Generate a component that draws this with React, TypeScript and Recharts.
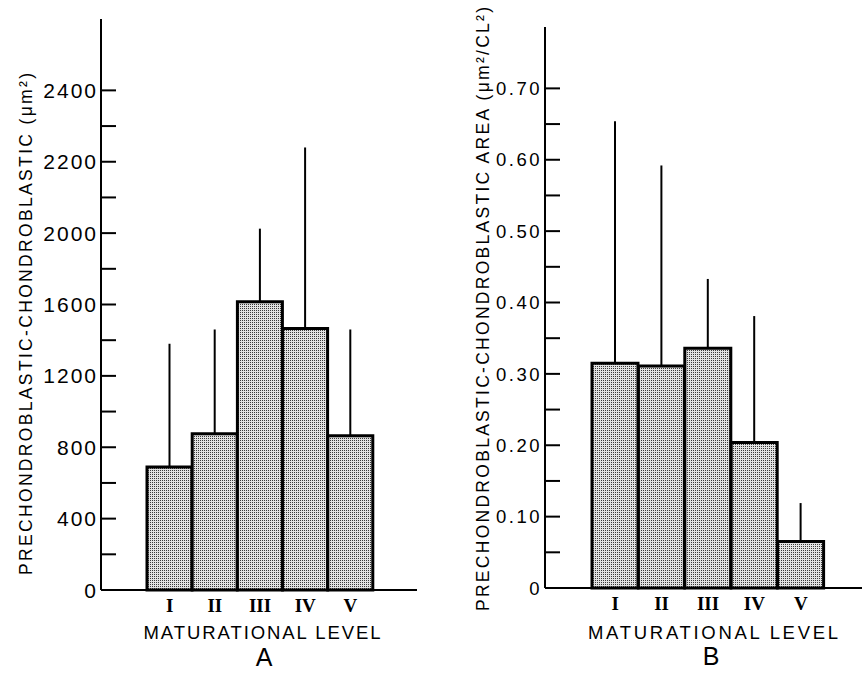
import React from 'react';
import { BarChart, Bar, XAxis, YAxis, ErrorBar } from 'recharts';

// maturational levels
const levels = ['I', 'II', 'III', 'IV', 'V'];

// panel A: area in µm², mean and upper SD
const meanA = [690, 875, 1615, 1465, 865];
const sdA = [690, 585, 410, 1015, 595];

// panel B: area in µm²/CL²
const meanB = [0.315, 0.311, 0.336, 0.204, 0.065];
const sdB = [0.339, 0.281, 0.097, 0.177, 0.054];

// y ticks (minor every half step); labels as printed on the original figure
const yTicksA = [0, 200, 400, 600, 800, 1000, 1200, 1400, 1600, 1800, 2000, 2200, 2400, 2600, 2800];
const yMajorA = [0, 400, 800, 1200, 1600, 2000, 2400, 2800];
const yMajorLabelsA = ['0', '400', '800', '1200', '1600', '2000', '2200', '2400'];

const yTicksB = [0, 0.05, 0.1, 0.15, 0.2, 0.25, 0.3, 0.35, 0.4, 0.45, 0.5, 0.55, 0.6, 0.65, 0.7];
const yMajorB = [0, 0.1, 0.2, 0.3, 0.4, 0.5, 0.6, 0.7];
const yMajorLabelsB = ['0', '0.10', '0.20', '0.30', '0.40', '0.50', '0.60', '0.70'];

const dataA = levels.map((level, i) => ({ level, value: meanA[i], err: [0, sdA[i]] }));
const dataB = levels.map((level, i) => ({ level, value: meanB[i], err: [0, sdB[i]] }));

const SANS = '"Liberation Sans", Arial, sans-serif';
const SERIF = '"Liberation Serif", "DejaVu Serif", serif';

const labelFor = (v: number, majors: number[], labels: string[]) => {
  const i = majors.findIndex((m) => Math.abs(m - v) < 1e-6);
  return i >= 0 ? labels[i] : null;
};

const YTick = (props: any) => {
  const { x, y, payload, majors, labels, fontSize, spacing } = props;
  const txt = labelFor(payload.value, majors, labels);
  return (
    <g>
      <line x1={x} x2={x + 15} y1={y} y2={y} stroke="#000" strokeWidth={2} />
      {txt !== null && (
        <text x={x - 3} y={y} dy="0.36em" textAnchor="end" fill="#000"
          fontFamily={SANS} fontSize={fontSize} letterSpacing={spacing}>
          {txt}
        </text>
      )}
    </g>
  );
};

const XTick = (props: any) => {
  const { x, y, payload } = props;
  return (
    <text x={x} y={y + 15} dy="0.36em" textAnchor="middle" fill="#000"
      fontFamily={SERIF} fontWeight="bold" fontSize={19}>
      {payload.value}
    </text>
  );
};

const Stipple = ({ id }: { id: string }) => (
  <defs>
    <pattern id={id} width={2} height={2} patternUnits="userSpaceOnUse">
      <rect width={2} height={2} fill="#e2e2e2" />
      <rect width={1} height={1} fill="#3a3a3a" />
    </pattern>
  </defs>
);

export default function App() {
  return (
    <div style={{ position: 'absolute', left: 0, top: 0, width: 862, height: 673, background: '#fff' }}>
      {/* Panel A */}
      <div style={{ position: 'absolute', left: 0, top: 0 }}>
        <BarChart width={431} height={673} data={dataA} barCategoryGap={0}
          margin={{ top: 19, right: 14, bottom: 53, left: 0 }}>
          <Stipple id="dotsA" />
          <XAxis dataKey="level" type="category" interval={0} height={30}
            padding={{ left: 46, right: 44 }} tickLine={false} tickSize={0} tickMargin={0}
            axisLine={{ stroke: '#000', strokeWidth: 2 }} tick={(p: any) => <XTick {...p} />} />
          <YAxis type="number" domain={[0, 3200]} ticks={yTicksA} interval={0} width={101}
            tickSize={0} tickMargin={0} tickLine={false}
            axisLine={{ stroke: '#000', strokeWidth: 2 }}
            tick={(p: any) => <YTick {...p} majors={yMajorA} labels={yMajorLabelsA} fontSize={21} spacing={2} />} />
          <Bar dataKey="value" fill="url(#dotsA)" stroke="#000" strokeWidth={3} isAnimationActive={false}>
            <ErrorBar dataKey="err" direction="y" width={0} stroke="#000" strokeWidth={2} />
          </Bar>
          <text x={26} y={324} transform="rotate(-90 26 324)" dy="0.36em" textAnchor="middle"
            fontFamily={SANS} fontSize={17.5} fill="#000" textLength={502} lengthAdjust="spacing">
            PRECHONDROBLASTIC-CHONDROBLASTIC (μm²)
          </text>
          <text x={262} y={632} dy="0.36em" textAnchor="middle" fontFamily={SANS} fontSize={18.5}
            fill="#000" textLength={237} lengthAdjust="spacing">
            MATURATIONAL LEVEL
          </text>
          <text x={264} y={657} dy="0.36em" textAnchor="middle" fontFamily={SANS} fontSize={25} fill="#000">
            A
          </text>
        </BarChart>
      </div>

      {/* Panel B */}
      <div style={{ position: 'absolute', left: 431, top: 0 }}>
        <BarChart width={431} height={673} data={dataB} barCategoryGap={0}
          margin={{ top: 27, right: 0, bottom: 55, left: 0 }}>
          <Stipple id="dotsB" />
          <XAxis dataKey="level" type="category" interval={0} height={30}
            padding={{ left: 47, right: 38 }} tickLine={false} tickSize={0} tickMargin={0}
            axisLine={{ stroke: '#000', strokeWidth: 2 }} tick={(p: any) => <XTick {...p} />} />
          <YAxis type="number" domain={[0, 0.786]} ticks={yTicksB} interval={0} width={114}
            tickSize={0} tickMargin={0} tickLine={false}
            axisLine={{ stroke: '#000', strokeWidth: 2 }}
            tick={(p: any) => <YTick {...p} majors={yMajorB} labels={yMajorLabelsB} fontSize={18.5} spacing={2.5} />} />
          <Bar dataKey="value" fill="url(#dotsB)" stroke="#000" strokeWidth={3} isAnimationActive={false}>
            <ErrorBar dataKey="err" direction="y" width={0} stroke="#000" strokeWidth={2} />
          </Bar>
          <text x={52} y={309} transform="rotate(-90 52 309)" dy="0.36em" textAnchor="middle"
            fontFamily={SANS} fontSize={17.5} fill="#000" textLength={604} lengthAdjust="spacing">
            PRECHONDROBLASTIC-CHONDROBLASTIC AREA (μm²/CL²)
          </text>
          <text x={282} y={632} dy="0.36em" textAnchor="middle" fontFamily={SANS} fontSize={18.5}
            fill="#000" textLength={250} lengthAdjust="spacing">
            MATURATIONAL LEVEL
          </text>
          <text x={280} y={656} dy="0.36em" textAnchor="middle" fontFamily={SANS} fontSize={25} fill="#000">
            B
          </text>
        </BarChart>
      </div>
    </div>
  );
}
